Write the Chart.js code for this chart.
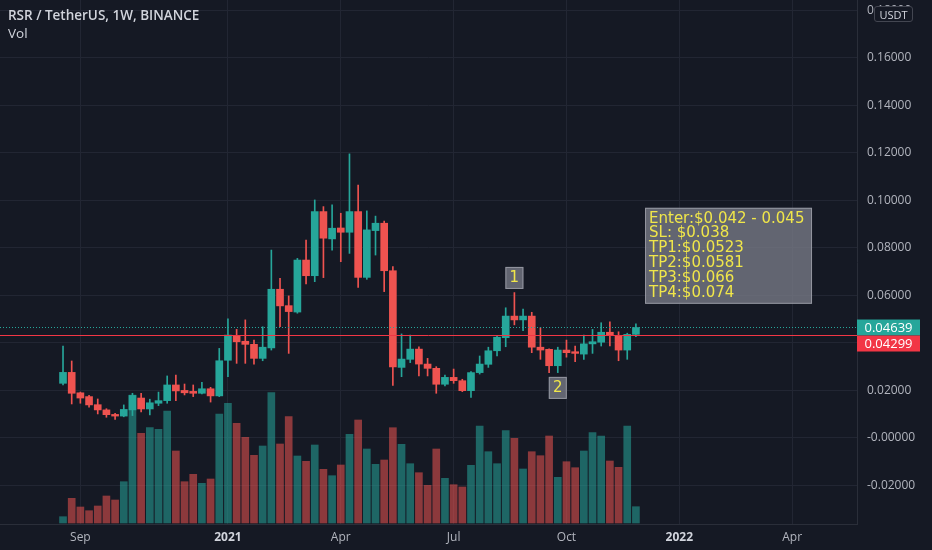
<!DOCTYPE html>
<html>
<head>
<meta charset="utf-8">
<title>RSR / TetherUS 1W</title>
<script src="https://cdn.jsdelivr.net/npm/chart.js@4.4.0/dist/chart.umd.min.js"></script>
<style>
  html, body { margin: 0; padding: 0; background: #151924; }
  #wrap { position: relative; width: 932px; height: 550px; overflow: hidden; }
  #title { position: absolute; left: 8px; top: 6px; font: 600 13.5px "Open Sans", sans-serif; color: #d1d4dc; }
  #vol { position: absolute; left: 8px; top: 24px; font: 13.5px "Open Sans", sans-serif; color: #d1d4dc; }
  #ccy { position: absolute; left: 874px; top: 6px; width: 37px; height: 14px; line-height: 14px;
         border: 1px solid #434651; border-radius: 3px; background: #151924; color: #d1d4dc;
         font: 11px "Open Sans", sans-serif; text-align: center; }
</style>
</head>
<body>
<div id="wrap">
  <canvas id="chart" width="932" height="550"></canvas>
  <div id="title">RSR / TetherUS, 1W, BINANCE</div>
  <div id="vol">Vol</div>
  <div id="ccy">USDT</div>
</div>
<script>
// weekly candles, index 0 = week of 24 Aug 2020
const opens = [0.0229, 0.0275, 0.0189, 0.0173, 0.0139, 0.0117, 0.0098, 0.0091, 0.0117, 0.0167,
  0.0121, 0.0145, 0.0156, 0.0222, 0.0199, 0.0195, 0.0187, 0.0206, 0.0176, 0.0326,
  0.0429, 0.0406, 0.0393, 0.0334, 0.0378, 0.0625, 0.0556, 0.0529, 0.0748, 0.0682,
  0.0952, 0.0837, 0.0883, 0.0865, 0.0952, 0.0675, 0.0872, 0.0903, 0.0703, 0.0296,
  0.0330, 0.0373, 0.0310, 0.0292, 0.0225, 0.0254, 0.0240, 0.0198, 0.0274, 0.0309,
  0.0366, 0.0421, 0.0512, 0.0496, 0.0512, 0.0381, 0.0372, 0.0303, 0.0369, 0.0362,
  0.0352, 0.0395, 0.0402, 0.0444, 0.0431, 0.0369, 0.0435];
const highs = [0.0386, 0.0323, 0.0192, 0.0178, 0.0163, 0.0122, 0.0103, 0.0138, 0.0187, 0.0187,
  0.0162, 0.0192, 0.0260, 0.0264, 0.0226, 0.0222, 0.0233, 0.0212, 0.0376, 0.0500,
  0.0456, 0.0496, 0.0411, 0.0467, 0.0790, 0.0671, 0.0597, 0.0755, 0.0832, 0.1001,
  0.0973, 0.0980, 0.0945, 0.1195, 0.1064, 0.0955, 0.0933, 0.0912, 0.0720, 0.0437,
  0.0432, 0.0383, 0.0334, 0.0299, 0.0264, 0.0289, 0.0246, 0.0278, 0.0344, 0.0381,
  0.0430, 0.0547, 0.0611, 0.0541, 0.0528, 0.0463, 0.0374, 0.0381, 0.0411, 0.0386,
  0.0432, 0.0456, 0.0484, 0.0488, 0.0446, 0.0440, 0.0479];
const lows = [0.0222, 0.0142, 0.0145, 0.0128, 0.0100, 0.0086, 0.0077, 0.0088, 0.0093, 0.0109,
  0.0096, 0.0135, 0.0145, 0.0156, 0.0180, 0.0173, 0.0184, 0.0150, 0.0173, 0.0257,
  0.0313, 0.0313, 0.0310, 0.0324, 0.0369, 0.0467, 0.0355, 0.0524, 0.0647, 0.0657,
  0.0674, 0.0790, 0.0741, 0.0776, 0.0633, 0.0667, 0.0769, 0.0615, 0.0220, 0.0257,
  0.0316, 0.0260, 0.0260, 0.0187, 0.0218, 0.0229, 0.0194, 0.0170, 0.0268, 0.0296,
  0.0344, 0.0383, 0.0475, 0.0451, 0.0358, 0.0330, 0.0274, 0.0274, 0.0339, 0.0320,
  0.0330, 0.0355, 0.0386, 0.0386, 0.0324, 0.0330, 0.0425];
const closes = [0.0275, 0.0187, 0.0167, 0.0138, 0.0117, 0.0097, 0.0091, 0.0119, 0.0178, 0.0121,
  0.0147, 0.0156, 0.0222, 0.0197, 0.0189, 0.0187, 0.0206, 0.0176, 0.0324, 0.0432,
  0.0404, 0.0393, 0.0334, 0.0381, 0.0625, 0.0555, 0.0531, 0.0748, 0.0682, 0.0952,
  0.0840, 0.0882, 0.0865, 0.0952, 0.0675, 0.0875, 0.0903, 0.0703, 0.0298, 0.0331,
  0.0373, 0.0310, 0.0292, 0.0225, 0.0254, 0.0240, 0.0198, 0.0274, 0.0310, 0.0366,
  0.0423, 0.0512, 0.0496, 0.0512, 0.0381, 0.0369, 0.0303, 0.0369, 0.0358, 0.0355,
  0.0395, 0.0404, 0.0444, 0.0431, 0.0369, 0.0435, 0.04639];
// volume, millions RSR
const volumes = [126, 494, 320, 246, 340, 540, 460, 826, 2560, 1794,
  1906, 1874, 2240, 1440, 826, 974, 794, 880, 2180, 2394,
  1994, 1714, 1354, 1540, 2606, 1580, 2126, 1340, 1234, 1560,
  1074, 946, 1160, 1774, 2060, 1480, 1174, 1260, 1906, 1574,
  1186, 1006, 754, 1480, 894, 766, 720, 1154, 1940, 1426,
  1186, 1846, 1694, 1080, 1426, 1346, 1740, 914, 1226, 1106,
  1440, 1806, 1740, 1240, 1114, 1940, 326];

const xTickIdx = [2, 19, 32, 45, 58, 71, 84];
const xTickLabels = ['Sep', '2021', 'Apr', 'Jul', 'Oct', '2022', 'Apr'];
const yTickVals = [-0.02, 0, 0.02, 0.04, 0.06, 0.08, 0.10, 0.12, 0.14, 0.16, 0.18];
const yTickLabels = ['-0.02000', '-0.00000', '0.02000', '0.04000', '0.06000', '0.08000',
  '0.10000', '0.12000', '0.14000', '0.16000', '0.18000'];

const lastPrice = 0.04639;
const levelPrice = 0.04299;

const noteLabels = ['1', '2'];
const noteIdx = [52, 57];
const notePrice = [0.0719, 0.0256];
const planLines = ['Enter:$0.042 - 0.045', 'SL: $0.038', 'TP1:$0.0523', 'TP2:$0.0581', 'TP3:$0.066', 'TP4:$0.074'];
const planIdx = 67.05;
const planPrice = 0.0968;

const UP = '#26a69a';
const DOWN = '#ef5350';
const UP_VOL = 'rgba(38,166,154,0.55)';
const DOWN_VOL = 'rgba(239,83,80,0.55)';
const LEVEL = '#f23645';
const GRID = '#222633';
const AXIS = '#2a2e39';
const TEXT = '#b2b5be';
const NOTE_TEXT = '#f0e64a';

const X_MIN = -7.26, X_MAX = 91.47;

const isUp = i => closes[i] >= opens[i];
const wicks = opens.map((o, i) => ({ x: i, y: [lows[i], highs[i]] }));
const bodies = opens.map((o, i) => ({ x: i, y: [o, closes[i]] }));
const vols = volumes.map((v, i) => ({ x: i, y: v }));

// horizontal price lines: last price (dotted) and the drawn level (solid)
const levelLines = {
  id: 'levelLines',
  afterDatasetsDraw(chart) {
    const { ctx, scales: { y }, chartArea: a } = chart;
    ctx.save();
    ctx.lineWidth = 1;
    [[lastPrice, UP, [1, 2]], [levelPrice, LEVEL, []]].forEach(([v, col, dash]) => {
      const py = Math.floor(y.getPixelForValue(v)) + 0.5;
      ctx.strokeStyle = col;
      ctx.setLineDash(dash);
      ctx.beginPath();
      ctx.moveTo(a.left, py);
      ctx.lineTo(a.right, py);
      ctx.stroke();
    });
    ctx.restore();
  }
};

function noteBox(ctx, x, y, w, h) {
  ctx.fillStyle = 'rgba(120,123,134,0.78)';
  ctx.fillRect(x, y, w, h);
  ctx.strokeStyle = 'rgba(160,163,172,0.8)';
  ctx.lineWidth = 1;
  ctx.strokeRect(x + 0.5, y + 0.5, w - 1, h - 1);
}

const notesPlugin = {
  id: 'notes',
  afterDatasetsDraw(chart) {
    const { ctx, scales: { x, y } } = chart;
    ctx.save();
    ctx.font = '15px "DejaVu Sans"';
    ctx.textBaseline = 'middle';
    noteLabels.forEach((t, k) => {
      const cx = x.getPixelForValue(noteIdx[k]);
      const top = y.getPixelForValue(notePrice[k]);
      noteBox(ctx, cx - 9, top, 18, 22);
      ctx.fillStyle = NOTE_TEXT;
      ctx.textAlign = 'center';
      ctx.fillText(t, cx, top + 11.5);
    });
    const left = x.getPixelForValue(planIdx);
    const top = y.getPixelForValue(planPrice);
    noteBox(ctx, left, top, 167, 96);
    ctx.fillStyle = NOTE_TEXT;
    ctx.textAlign = 'left';
    planLines.forEach((t, k) => ctx.fillText(t, left + 4, top + 11 + 14.8 * k));
    ctx.restore();
  }
};

const priceTags = {
  id: 'priceTags',
  afterDraw(chart) {
    const { ctx, scales: { y }, chartArea } = chart;
    const tags = [[lastPrice, UP], [levelPrice, LEVEL]];
    let prevBottom = -Infinity;
    ctx.save();
    ctx.font = '13px "Open Sans"';
    ctx.textAlign = 'center';
    ctx.textBaseline = 'middle';
    tags.forEach(([v, col]) => {
      let top = y.getPixelForValue(v) - 8;
      if (top < prevBottom) top = prevBottom;
      ctx.fillStyle = col;
      ctx.fillRect(chartArea.right, top, 63, 16);
      ctx.fillStyle = '#ffffff';
      ctx.fillText(v.toFixed(5), chartArea.right + 31.5, top + 8.5);
      prevBottom = top + 16;
    });
    ctx.restore();
  }
};

Chart.defaults.font.family = '"Open Sans", sans-serif';

new Chart(document.getElementById('chart'), {
  type: 'bar',
  data: {
    datasets: [
      {
        label: 'body', order: 1, data: bodies, yAxisID: 'y',
        grouped: false, barThickness: 7, minBarLength: 1,
        backgroundColor: c => isUp(c.dataIndex) ? UP : DOWN
      },
      {
        label: 'wick', order: 2, data: wicks, yAxisID: 'y',
        grouped: false, barThickness: 1,
        backgroundColor: c => isUp(c.dataIndex) ? UP : DOWN
      },
      {
        label: 'volume', order: 3, data: vols, yAxisID: 'yVol',
        grouped: false, barThickness: 7,
        backgroundColor: c => isUp(c.dataIndex) ? UP_VOL : DOWN_VOL
      }
    ]
  },
  options: {
    responsive: false,
    animation: false,
    layout: { padding: 0 },
    plugins: { legend: { display: false }, tooltip: { enabled: false } },
    scales: {
      x: {
        type: 'linear', min: X_MIN, max: X_MAX, offset: false,
        grid: { color: GRID, drawTicks: false, offset: false },
        border: { display: true, color: AXIS },
        afterBuildTicks: s => { s.ticks = xTickIdx.map(v => ({ value: v })); },
        afterFit: s => { s.height = 26; s.paddingLeft = 0; s.paddingRight = 0; },
        ticks: {
          autoSkip: false, maxRotation: 0, padding: 6,
          callback: (v, i) => xTickLabels[i],
          color: c => /^\d{4}$/.test(xTickLabels[c.index]) ? '#d1d4dc' : TEXT,
          font: c => ({ size: 12, weight: /^\d{4}$/.test(xTickLabels[c.index]) ? 'bold' : 'normal' })
        }
      },
      y: {
        position: 'right', min: -0.03634, max: 0.18429,
        grid: { color: GRID, drawTicks: false },
        border: { display: true, color: AXIS },
        afterBuildTicks: s => { s.ticks = yTickVals.map(v => ({ value: v })); },
        afterFit: s => { s.width = 75; s.paddingTop = 0; s.paddingBottom = 0; },
        ticks: {
          padding: 10, color: TEXT, font: { size: 12 },
          callback: (v, i) => yTickLabels[i]
        }
      },
      yVol: {
        display: false, min: -20, max: 10460
      }
    }
  },
  plugins: [levelLines, notesPlugin, priceTags]
});
</script>
</body>
</html>
